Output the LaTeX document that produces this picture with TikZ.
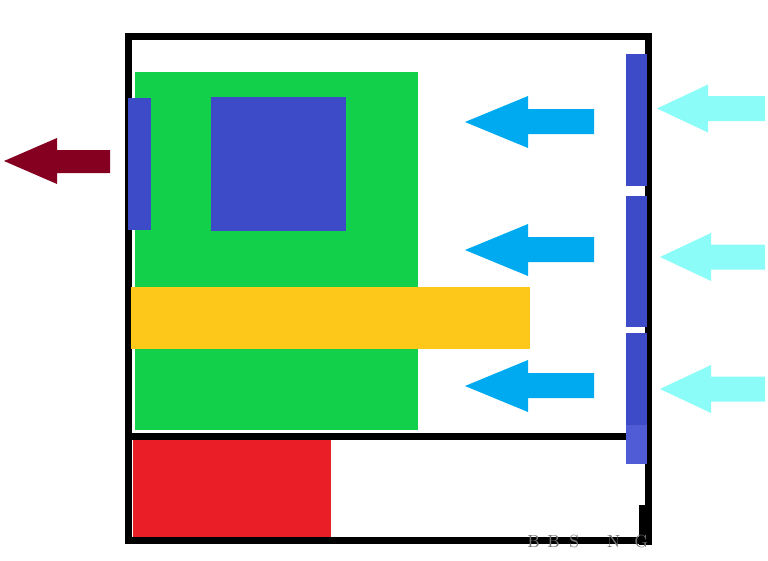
\documentclass[tikz,border=0pt]{standalone}
\usepackage{tikz}
\usetikzlibrary{calc}

\definecolor{boardgreen}{RGB}{18,208,74}
\definecolor{partblue}{RGB}{62,75,201}
\definecolor{lightpartblue}{RGB}{80,92,214}
\definecolor{cardyellow}{RGB}{253,200,26}
\definecolor{psured}{RGB}{234,30,39}
\definecolor{exhaustred}{RGB}{133,0,32}
\definecolor{flowblue}{RGB}{0,170,240}
\definecolor{intakecyan}{RGB}{140,252,248}

\begin{document}
\begin{tikzpicture}[
    x=0.02cm, y=-0.02cm,
    frame/.style={draw=black, line width=0.14cm},
    board/.style={fill=boardgreen},
    part/.style={fill=partblue},
    card/.style={fill=cardyellow},
    psu/.style={fill=psured},
    exhaust/.style={fill=exhaustred},
    flow/.style={fill=flowblue},
    intake/.style={fill=intakecyan}
]

% Canvas
\useasboundingbox[fill=white] (0,0) rectangle (768,561);

% Case
\draw[frame] (128,36.5) rectangle (648.5,540);
\fill (639,505) rectangle (652,545);

% Motherboard, CPU, rear bar, graphics card
\fill[board] (135,72) rectangle (418,430);
\fill[part] (211,97) rectangle (346,231);
\fill[card] (131,287) rectangle (530,349);
\fill[part] (128,98) rectangle (151,230);

% Power supply shroud
\fill[psu] (133,438) rectangle (331,537);
\draw[frame] (128,436.5) -- (626,436.5);

% Front intake fans
\foreach \ytop/\ybot in {54/186, 196/327, 333/425}
    \fill[part] (626,\ytop) rectangle (647,\ybot);
\fill[lightpartblue] (626,425) rectangle (647,464);

% Exhaust arrow
\fill[exhaust] (4,161) -- (57,138) -- (57,150) -- (110,150)
    -- (110,173) -- (57,173) -- (57,184) -- cycle;

% Inner airflow arrows
\foreach \yc in {122, 250, 386}
    \fill[flow] (465,\yc) -- (528,\yc-26) -- (528,\yc-13) -- (594,\yc-13)
        -- (594,\yc+12) -- (528,\yc+12) -- (528,\yc+26) -- cycle;

% Intake arrows
\foreach \xt/\yc in {657/108.5, 660/257, 660/389}
    \fill[intake] (\xt,\yc) -- (\xt+51,\yc-24) -- (\xt+51,\yc-12.5) -- (765,\yc-12.5)
        -- (765,\yc+12.5) -- (\xt+51,\yc+12.5) -- (\xt+51,\yc+24) -- cycle;

% Watermark
\node[anchor=west, text=black!55, font=\normalsize, inner sep=0pt] (mark) at (527,541)
    {B\hspace{4.3pt}B\hspace{5.4pt}S\hspace{16pt}N\hspace{8pt}G};

\end{tikzpicture}
\end{document}
